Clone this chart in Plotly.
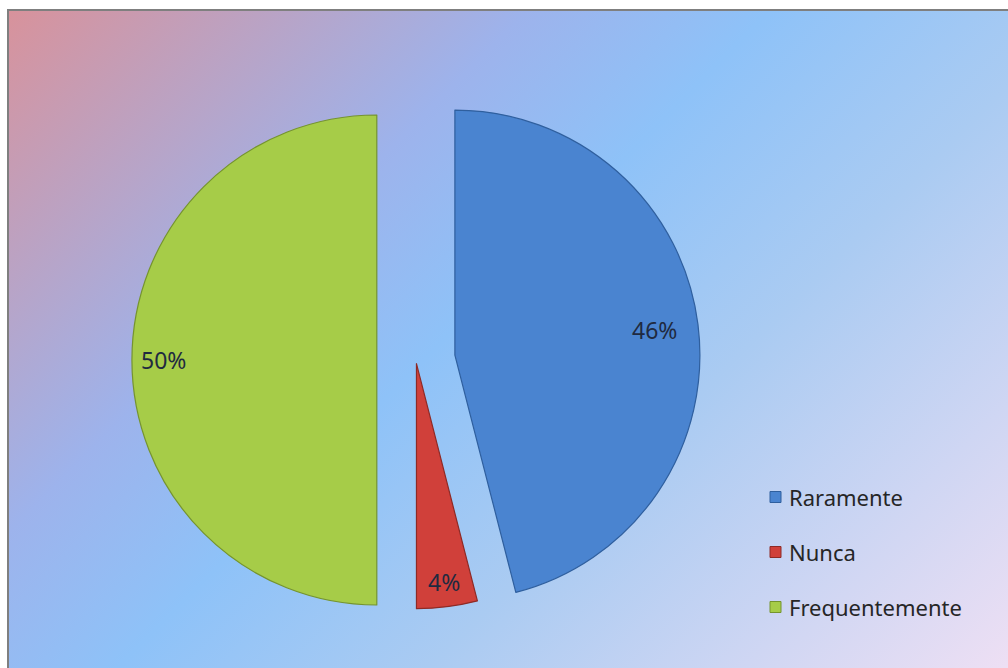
import base64
import math
import plotly.graph_objects as go

# Survey answers and their shares (%)
labels = ["Raramente", "Nunca", "Frequentemente"]
shares = [46, 4, 50]
colors = ["#4a84d0", "#d0403a", "#a6cc48"]
edge_colors = ["#2f5f9e", "#8e2a26", "#75942e"]

W, H = 1008, 668

# Pie geometry in pixels
CX, CY, R = 416, 360, 245
pulls = [0.16, 0.015, 0.16]
label_radius = [0.82, 0.90, 0.87]
max_pull = max(pulls)
half = R * (1 + max_pull)

# Diagonal background gradient, drawn as an SVG image inside the frame
FX0, FY0 = 8, 10
gw, gh = W - FX0 + 40, H - FY0 + 40
a, b = 0.6, 0.4
# endpoint so that t = a*x/gw + b*y/gh reaches 1 along the gradient direction
norm = (a / gw) ** 2 + (b / gh) ** 2
x2 = (a / gw) / norm
y2 = (b / gh) / norm
svg = f"""<svg xmlns='http://www.w3.org/2000/svg' width='{gw}' height='{gh}'>
<defs><linearGradient id='g' gradientUnits='userSpaceOnUse' x1='0' y1='0' x2='{x2:.2f}' y2='{y2:.2f}'>
<stop offset='0' stop-color='#d8929b'/>
<stop offset='0.30' stop-color='#9db3ec'/>
<stop offset='0.44' stop-color='#8ec2f8'/>
<stop offset='0.62' stop-color='#aacbf2'/>
<stop offset='1' stop-color='#f7e2f4'/>
</linearGradient></defs>
<rect width='{gw}' height='{gh}' fill='url(#g)'/></svg>"""
svg_uri = "data:image/svg+xml;base64," + base64.b64encode(svg.encode()).decode()

fig = go.Figure()
fig.add_trace(go.Pie(
    labels=labels,
    values=shares,
    sort=False,
    direction="clockwise",
    rotation=0,
    pull=pulls,
    textinfo="none",
    hoverinfo="label+percent",
    showlegend=False,
    marker=dict(colors=colors, line=dict(color=edge_colors, width=1.2)),
    domain=dict(
        x=[(CX - half) / W, (CX + half) / W],
        y=[1 - (CY + half) / H, 1 - (CY - half) / H],
    ),
))

FONT = "'Noto Sans', 'Open Sans', sans-serif"
annotations = []
total = sum(shares)
cum = 0
for i, v in enumerate(shares):
    theta = 2 * math.pi * (cum + v / 2) / total
    cum += v
    ux, uy = math.sin(theta), -math.cos(theta)
    sx = CX + pulls[i] * R * ux
    sy = CY + pulls[i] * R * uy
    lx = sx + label_radius[i] * R * ux
    ly = sy + label_radius[i] * R * uy
    pct = round(100 * v / total)
    annotations.append(dict(
        x=lx / W, y=1 - ly / H, xref="paper", yref="paper",
        text=f"{pct}%", showarrow=False,
        font=dict(family=FONT, size=23, color="#1f2a40"),
        xanchor="center", yanchor="middle",
    ))

# Legend: colored squares with labels
shapes = []
LEG_X, LEG_Y0, LEG_STEP, SQ = 770, 497, 55, 11
for i, name in enumerate(labels):
    yc = LEG_Y0 + i * LEG_STEP
    shapes.append(dict(
        type="rect", xref="paper", yref="paper",
        x0=LEG_X / W, x1=(LEG_X + SQ) / W,
        y0=1 - (yc + SQ / 2) / H, y1=1 - (yc - SQ / 2) / H,
        fillcolor=colors[i], line=dict(color=edge_colors[i], width=1),
    ))
    annotations.append(dict(
        x=(LEG_X + SQ + 6) / W, y=1 - yc / H, xref="paper", yref="paper",
        text=name, showarrow=False,
        font=dict(family=FONT, size=22, color="#262626"),
        xanchor="left", yanchor="middle",
    ))

# Chart frame (top and left edges visible)
shapes.append(dict(
    type="rect", xref="paper", yref="paper",
    x0=FX0 / W, x1=1 + 20 / W, y0=-20 / H, y1=1 - FY0 / H,
    line=dict(color="#7f7f7f", width=2), fillcolor="rgba(0,0,0,0)", layer="above",
))

fig.update_layout(
    width=W, height=H,
    margin=dict(l=0, r=0, t=0, b=0),
    paper_bgcolor="white",
    plot_bgcolor="white",
    images=[dict(
        source=svg_uri, xref="paper", yref="paper",
        x=FX0 / W, y=1 - FY0 / H, sizex=gw / W, sizey=gh / H,
        xanchor="left", yanchor="top", sizing="stretch", layer="below",
    )],
    shapes=shapes,
    annotations=annotations,
)

fig.write_html("out.html")
